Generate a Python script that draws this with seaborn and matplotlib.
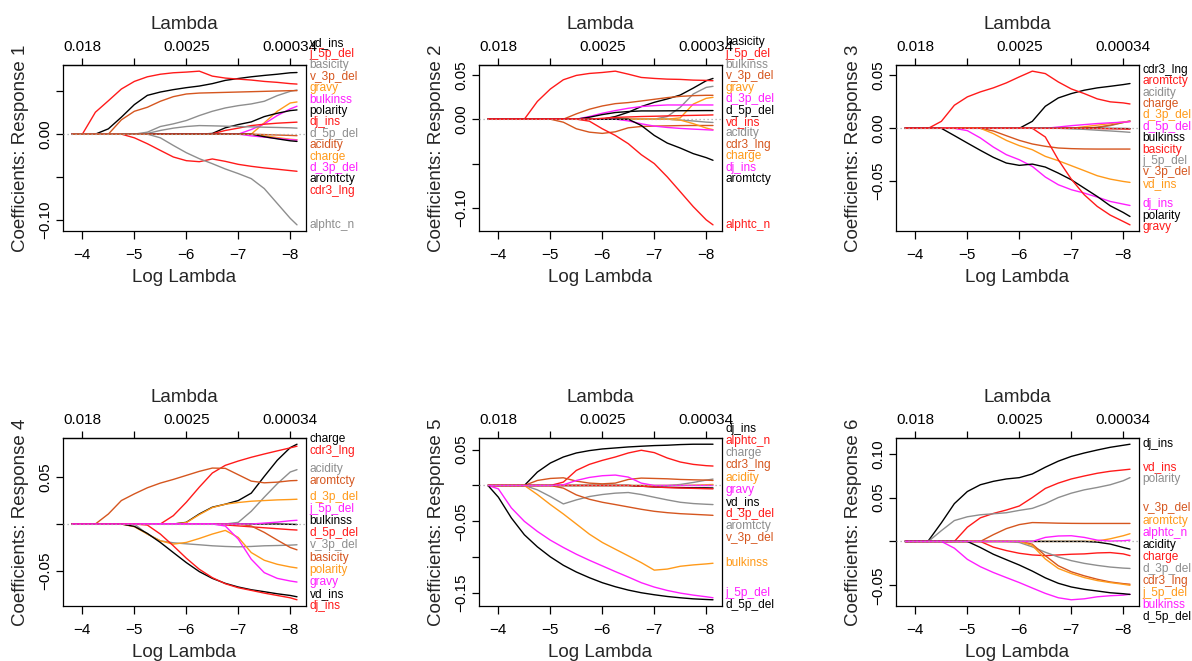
import matplotlib
matplotlib.use("Agg")
import numpy as np
import matplotlib.pyplot as plt
import seaborn as sns
from matplotlib.transforms import blended_transform_factory, offset_copy

# ---------------- data ----------------
LOG_LAMBDA = [-3.8, -4.0, -4.25, -4.5, -4.75, -5.0, -5.25, -5.5, -5.75, -6.0,
              -6.25, -6.5, -6.75, -7.0, -7.25, -7.5, -7.75, -8.0, -8.13]

R1 = {
    "vd_ins":   [0, 0, 0, .0062, .0198, .0345, .0453, .0492, .052, .0543, .0562, .059, .0628, .065, .067, .0686, .070, .0717, .072],
    "j_5p_del": [0, 0, .0256, .039, .0527, .0616, .067, .070, .0717, .0725, .0736, .0678, .0655, .0643, .0632, .0616, .0605, .059, .0585],
    "basicity": [0, 0, 0, 0, 0, 0, .0023, .0089, .012, .0159, .0217, .0267, .0306, .0333, .0353, .0384, .045, .050, .0516],
    "v_3p_del": [0, 0, 0, 0, .0167, .0267, .0314, .0384, .0438, .0469, .048, .0484, .0488, .0492, .0496, .050, .0504, .0508, .0508],
    "gravy":    [0]*15 + [.0132, .0267, .0364, .0376],
    "bulkinss": [0]*14 + [.0054, .012, .0217, .0295, .0326],
    "polarity": [0]*11 + [.0008, .0074, .0112, .0143, .0205, .0244, .0275, .0283],
    "dj_ins":   [0]*11 + [.0004, .0043, .007, .010, .0116, .0128, .0136, .014],
    "d_5p_del": [0]*6 + [.0008, .0043, .007, .0089, .010, .0097, .0093, .0089, .0085, .0081, .0078, .0074, .007],
    "acidity":  [0]*15 + [-.0005, -.001, -.0015, -.0018],
    "charge":   [0]*15 + [-.002, -.004, -.006, -.0066],
    "d_3p_del": [0]*14 + [-.002, -.0035, -.005, -.0065, -.007],
    "aromtcty": [0]*15 + [-.003, -.0055, -.0078, -.0085],
    "cdr3_lng": [0]*5 + [-.0043, -.0112, -.019, -.0267, -.031, -.0322, -.029, -.0318, -.0353, -.0376, -.0395, -.041, -.0426, -.0434],
    "alphtc_n": [0]*7 + [-.0043, -.0132, -.0217, -.0287, -.0345, -.0407, -.0461, -.052, -.0636, -.081, -.0984, -.106],
}

R2 = {
    "basicity": [0]*10 + [.003, .0078, .0142, .019, .0228, .0272, .035, .0433, .0459],
    "j_5p_del": [0]*4 + [.020, .034, .0444, .0493, .0515, .0526, .0541, .0507, .047, .0459, .0451, .0448, .044, .0437, .0433],
    "bulkinss": [0]*14 + [.003, .0134, .0284, .0358, .037],
    "v_3p_del": [0]*7 + [.006, .0112, .0149, .0175, .0187, .0205, .0224, .0243, .0257, .0265, .0269, .0269],
    "gravy":    [0]*15 + [.0015, .017, .0235, .0246],
    "d_3p_del": [0]*8 + [.003, .0067, .0097, .0123, .0142, .0153, .016, .016, .016, .016, .016],
    "d_5p_del": [0]*8 + [.0022, .0052, .0075, .0086, .0093, .0093, .0094, .0095, .0096, .0097, .0097],
    "vd_ins":   [0]*9 + [.001, .002, .0025, .003, .0033, .0037, .004, .0043, .0046, .0048],
    "acidity":  [0]*15 + [-.001, -.002, -.0033, -.0037],
    "cdr3_lng": [0]*6 + [-.0034, -.0108, -.0146, -.016, -.0142, -.0097, -.0082, -.0078, -.0075, -.0072, -.0071, -.0071, -.0071],
    "charge":   [0]*15 + [-.001, -.005, -.010, -.0118],
    "dj_ins":   [0]*11 + [-.0019, -.0052, -.0078, -.0093, -.0104, -.0112, -.0119, -.0123],
    "aromtcty": [0]*12 + [-.0071, -.0183, -.0269, -.0325, -.0388, -.0433, -.0463],
    "alphtc_n": [0]*8 + [-.0022, -.0108, -.0183, -.0276, -.040, -.050, -.065, -.0817, -.0985, -.1134, -.119],
}

R3 = {
    "cdr3_lng": [0]*10 + [.0066, .0208, .0287, .0328, .036, .0382, .0397, .0413, .0423],
    "aromtcty": [0]*3 + [.0066, .0218, .0297, .0344, .0382, .0429, .0486, .054, .0517, .0438, .0372, .0328, .0278, .025, .024, .023],
    "acidity":  [0]*15 + [.0008, .0025, .0055, .0070],
    "charge":   [0]*15 + [.001, .003, .0055, .0068],
    "d_3p_del": [0]*14 + [.0015, .003, .0045, .006, .0066],
    "d_5p_del": [0]*12 + [.0012, .0025, .0035, .0045, .0052, .0058, .0062],
    "bulkinss": [0]*16 + [-.0001, -.0002, -.0003],
    "basicity": [0]*15 + [-.0002, -.0004, -.0006, -.0008],
    "j_5p_del": [0]*13 + [-.0005, -.001, -.0018, -.0025, -.0033, -.0038],
    "v_3p_del": [0]*7 + [-.0025, -.007, -.0114, -.0148, -.017, -.0186, -.0192, -.0195, -.0196, -.0196, -.0196, -.0196],
    "vd_ins":   [0]*7 + [-.005, -.0114, -.0164, -.0202, -.0265, -.0306, -.0353, -.040, -.0448, -.048, -.0502, -.0511],
    "dj_ins":   [0]*5 + [-.0022, -.0091, -.0177, -.0249, -.0297, -.036, -.046, -.0533, -.058, -.0612, -.065, -.0691, -.0716, -.0729],
    "polarity": [0]*4 + [-.0069, -.0139, -.0208, -.0274, -.0328, -.035, -.0338, -.0366, -.0423, -.0486, -.0565, -.0644, -.0732, -.0795, -.0833],
    "gravy":    [0]*11 + [-.0082, -.0297, -.048, -.0628, -.0738, -.082, -.088, -.0912],
}

R4 = {
    "charge":   [0]*9 + [.0018, .0107, .0179, .0211, .025, .0329, .0507, .0679, .0814, .085],
    "cdr3_lng": [0]*8 + [.0089, .0232, .0393, .0543, .0625, .0671, .0711, .0746, .0779, .0811, .0829],
    "acidity":  [0]*13 + [.0018, .0136, .0286, .0429, .0554, .0579],
    "aromtcty": [0]*3 + [.0107, .025, .0321, .0386, .0436, .0475, .0518, .0561, .0596, .0593, .0525, .0457, .0439, .0446, .0461, .0464],
    "d_3p_del": [0]*9 + [.0015, .010, .0175, .0211, .0229, .0243, .025, .0257, .0261, .0264],
    "j_5p_del": [0]*15 + [.001, .002, .0035, .004],
    "bulkinss": [0]*17 + [-.0003, -.0005],
    "d_5p_del": [0]*12 + [-.001, -.002, -.003, -.004, -.005, -.006, -.0064],
    "v_3p_del": [0]*6 + [-.0107, -.0179, -.020, -.0211, -.0221, -.0232, -.0239, -.0243, -.0239, -.0232, -.0229, -.0225, -.0221],
    "basicity": [0]*14 + [-.0021, -.0089, -.0171, -.025, -.0275],
    "polarity": [0]*5 + [-.0029, -.0107, -.0179, -.0214, -.0196, -.0154, -.0107, -.0068, -.0143, -.0304, -.0386, -.0429, -.0457, -.0468],
    "gravy":    [0]*12 + [-.0021, -.0161, -.0375, -.0518, -.0579, -.0607, -.0618],
    "vd_ins":   [0]*5 + [-.0025, -.010, -.0196, -.0304, -.0411, -.0507, -.0579, -.0632, -.0671, -.070, -.0721, -.0743, -.0761, -.0775],
    "dj_ins":   [0]*6 + [-.0011, -.0107, -.0232, -.0364, -.0482, -.0571, -.0636, -.0679, -.0707, -.0736, -.0761, -.0786, -.0807],
}

R5 = {
    "dj_ins":   [0]*4 + [.0187, .0313, .0397, .0453, .0486, .0509, .0523, .0537, .0547, .0556, .0561, .057, .0575, .0575, .0575],
    "alphtc_n": [0]*6 + [.0047, .021, .0294, .035, .0397, .0453, .0491, .0458, .0383, .0327, .0294, .0276, .0271],
    "charge":   [0]*15 + [.0014, .0042, .0075, .0089],
    "cdr3_lng": [0]*4 + [.007, .0098, .0107, .0061, .0033, .0023, .0033, .0084, .0103, .0098, .0093, .0084, .0079, .0075, .007],
    "acidity":  [0]*16 + [.0005, .001, .0014],
    "gravy":    [0]*6 + [.0009, .007, .0112, .0136, .0145, .0117, .0033, 0, 0, 0, 0, 0, 0],
    "vd_ins":   [0]*12 + [-.001, -.002, -.0025, -.003, -.0032, -.0033, -.0035],
    "d_3p_del": [0]*12 + [-.001, -.002, -.003, -.0035, -.004, -.0045, -.0047],
    "aromtcty": [0]*4 + [-.0061, -.0154, -.0257, -.0201, -.0154, -.0126, -.0107, -.0098, -.0126, -.0164, -.0201, -.0234, -.0252, -.0262, -.0266],
    "v_3p_del": [0]*6 + [-.0037, -.0131, -.0192, -.0234, -.0266, -.0299, -.0332, -.036, -.0379, -.0393, -.0402, -.0411, -.0416],
    "bulkinss": [0]*4 + [-.0126, -.0266, -.0397, -.0537, -.0678, -.0794, -.0888, -.0981, -.1075, -.118, -.1165, -.1126, -.1107, -.1093, -.1084],
    "j_5p_del": [0] + [-.0047, -.0313, -.050, -.064, -.0762, -.0864, -.0958, -.1042, -.1121, -.120, -.1276, -.1355, -.1416, -.1463, -.150, -.1528, -.1551, -.1565],
    "d_5p_del": [0] + [-.0164, -.0453, -.0687, -.0855, -.0995, -.1112, -.1206, -.1285, -.1355, -.1411, -.1458, -.1495, -.1523, -.1547, -.1565, -.158, -.1589, -.1593],
}

R6 = {
    "dj_ins":   [0]*2 + [.0008, .0212, .0431, .0569, .0646, .0685, .0712, .0727, .0769, .0846, .0915, .0969, .1008, .1042, .1073, .1096, .1108],
    "vd_ins":   [0]*5 + [.0162, .0269, .0319, .0358, .0404, .050, .0604, .0665, .0712, .0746, .0777, .080, .0815, .0823],
    "polarity": [0]*3 + [.0123, .0238, .0281, .0304, .0315, .0327, .0354, .0377, .0431, .050, .055, .0588, .0615, .0646, .0692, .0727],
    "v_3p_del": [0]*7 + [.0077, .0146, .0192, .0215, .0212, .0208, .0206, .0205, .0205, .0205, .0205, .0205],
    "aromtcty": [0]*15 + [.0005, .003, .0065, .0088],
    "alphtc_n": [0]*11 + [.0046, .0062, .0065, .0046, .0015, .0004, .0008, .0015],
    "acidity":  [0]*15 + [-.0008, -.003, -.0069, -.0088],
    "charge":   [0]*7 + [-.0065, -.0104, -.0135, -.0154, -.0162, -.0154, -.0146, -.0142, -.0131, -.0127, -.0142, -.0162],
    "d_3p_del": [0]*9 + [-.0012, -.0062, -.0123, -.0177, -.0219, -.025, -.0273, -.0292, -.0304, -.0308],
    "cdr3_lng": [0]*10 + [-.0031, -.0162, -.0277, -.0346, -.0392, -.0431, -.0462, -.0481, -.0488],
    "j_5p_del": [0]*10 + [-.0046, -.020, -.0308, -.0365, -.0412, -.0446, -.0469, -.0488, -.050],
    "bulkinss": [0]*4 + [-.0077, -.0204, -.0288, -.0354, -.0412, -.0469, -.0531, -.0592, -.0642, -.0665, -.0654, -.0631, -.0619, -.0612, -.0602],
    "d_5p_del": [0]*6 + [-.0069, -.0146, -.0208, -.0269, -.0338, -.0415, -.0477, -.0519, -.0546, -.0565, -.0585, -.0596, -.0604],
}

RESPONSES = [R1, R2, R3, R4, R5, R6]

Y_TICKS = [
    [-0.10, -0.05, 0.00, 0.05],
    [-0.10, -0.05, 0.00, 0.05],
    [-0.05, 0.00, 0.05],
    [-0.05, 0.00, 0.05],
    [-0.15, -0.10, -0.05, 0.00, 0.05],
    [-0.05, 0.00, 0.05, 0.10],
]
Y_TICK_LABELS = [
    ["\u22120.10", "", "0.00", ""],
    ["\u22120.10", "", "0.00", "0.05"],
    ["\u22120.05", "0.00", "0.05"],
    ["\u22120.05", "", "0.05"],
    ["\u22120.15", "", "\u22120.05", "", "0.05"],
    ["\u22120.05", "", "0.05", "0.10"],
]
X_TICKS = [-4, -5, -6, -7, -8]
X_TICK_LABELS = ["\u22124", "\u22125", "\u22126", "\u22127", "\u22128"]
TOP_TICK_LABELS = ["0.018", "", "0.0025", "", "0.00034"]

# line drawn on top of the others where they overlap at zero
TOP_LINES = [["acidity"], ["vd_ins"], ["basicity"], ["j_5p_del"], ["d_3p_del", "gravy"], ["alphtc_n"]]

# ---------------- style ----------------
PALETTE = ["#000000", "#FF1A1A", "#8E8E8E", "#D5561F", "#FF9A1A", "#FF1EFF"]

sns.set_style("ticks")
plt.rcParams["font.family"] = ["Liberation Sans", "DejaVu Sans"]

FIG_W, FIG_H = 1192, 661
COL_LEFT = [63, 479, 896]
AX_W = 243
ROWS = [(65, 231), (438, 606)]
LABEL_GAP = [11.4, 12.1]


def spread(targets, gap):
    """Least-squares positions with a minimum spacing (pool adjacent violators)."""
    u = [t - i * gap for i, t in enumerate(targets)]
    blocks = []
    for v in u:
        blocks.append([v, 1])
        while len(blocks) > 1 and blocks[-2][0] / blocks[-2][1] > blocks[-1][0] / blocks[-1][1]:
            s, c = blocks.pop()
            blocks[-1][0] += s
            blocks[-1][1] += c
    out = []
    for s, c in blocks:
        out += [s / c] * c
    return [v + i * gap for i, v in enumerate(out)]


fig = plt.figure(figsize=(FIG_W / 100, FIG_H / 100), dpi=100)

xs = np.array(LOG_LAMBDA)
for k, resp in enumerate(RESPONSES):
    row, col = divmod(k, 3)
    top_px, bot_px = ROWS[row]
    ax = fig.add_axes([COL_LEFT[col] / FIG_W, 1 - bot_px / FIG_H,
                       AX_W / FIG_W, (bot_px - top_px) / FIG_H])
    names = list(resp)
    for i, name in enumerate(names):
        z = 2 + i * 0.01
        if name in TOP_LINES[k]:
            z = 50 + TOP_LINES[k].index(name)
        sns.lineplot(x=LOG_LAMBDA, y=resp[name], color=PALETTE[i % 6], lw=1.0,
                     ax=ax, zorder=z, estimator=None, sort=False)

    allv = np.concatenate([resp[n] for n in names])
    xpad = 0.04 * (xs.max() - xs.min())
    ypad = 0.04 * (allv.max() - allv.min())
    ax.set_xlim(xs.max() + xpad, xs.min() - xpad)
    ax.set_ylim(allv.min() - ypad, allv.max() + ypad)
    ax.axhline(0, color="#A8A8A8", lw=0.9, ls=(0, (1, 2.2)), zorder=100)

    ax.set_xticks(X_TICKS)
    ax.set_xticklabels(X_TICK_LABELS)
    ax.set_yticks(Y_TICKS[k])
    ax.set_yticklabels(Y_TICK_LABELS[k], rotation=90, va="center")
    ax.tick_params(direction="out", length=5.4, width=0.9, labelsize=11,
                   color="black", labelcolor="black", top=False, right=False)
    ax.tick_params(axis="x", pad=6.5)
    ax.tick_params(axis="y", pad=2.0)
    ax.set_xlabel("Log Lambda", fontsize=13.5, labelpad=5.5)
    ax.set_ylabel(f"Coefficients: Response {k + 1}", fontsize=13.5, labelpad=7)
    for sp in ax.spines.values():
        sp.set_color("black")
        sp.set_linewidth(0.9)

    sec = ax.secondary_xaxis("top")
    sec.set_xticks(X_TICKS)
    sec.set_xticklabels(TOP_TICK_LABELS)
    sec.tick_params(direction="out", length=5.4, width=0.9, labelsize=11, pad=2.5,
                    color="black", labelcolor="black")
    sec.spines["top"].set_linewidth(0.9)
    sec.set_xlabel("Lambda", fontsize=13.5, labelpad=8)

    # right-hand variable labels, spaced apart
    finals = [resp[n][-1] for n in names]
    disp = [ax.transData.transform((xs.min(), v))[1] for v in finals]
    pos = spread([-d for d in disp], LABEL_GAP[row])
    trans = offset_copy(blended_transform_factory(ax.transAxes, ax.transData),
                        fig=fig, x=2.5, y=0, units="points")
    inv = ax.transData.inverted()
    for i, (name, p) in enumerate(zip(names, pos)):
        yd = inv.transform((0, -p))[1]
        ax.text(1.0, yd, name, transform=trans, color=PALETTE[i % 6], fontsize=8.6,
                ha="left", va="center", clip_on=False)

fig.savefig("out.png", dpi=100)
